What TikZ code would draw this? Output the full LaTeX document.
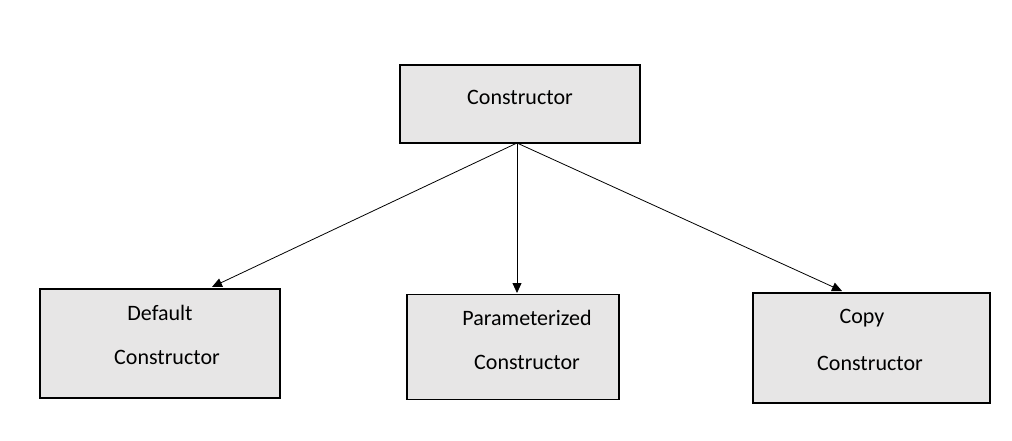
\documentclass[tikz,border=0pt]{standalone}
\usepackage{fontspec}
\setmainfont{Carlito}
\usetikzlibrary{arrows.meta}
\definecolor{boxfill}{HTML}{E7E6E6}
\tikzset{
  box/.style={draw=black, line width=1.6pt, fill=boxfill, inner sep=0pt},
  lbl/.style={font=\fontsize{22}{26}\selectfont, inner sep=0pt, anchor=center},
  conn/.style={draw=black, line width=0.8pt, -{Triangle[length=10pt,width=9pt]}}
}
\begin{document}
\begin{tikzpicture}[x=1pt,y=-1pt]
\useasboundingbox (0,0) rectangle (1012,440);
\fill[white] (0,0) rectangle (1012,440);
\node[box, minimum width=240pt, minimum height=78pt] (top) at (520,104) {};
\node[lbl] (toptxt) at (520,97) {Constructor};
\node[box, minimum width=240pt, minimum height=109pt] (left) at (160,343.5) {};
\node[lbl] (lefta) at (160,313) {Default};
\node[lbl] (leftb) at (167,357) {Constructor};
\node[box, minimum width=212pt, minimum height=105pt] (mid) at (513,347) {};
\node[lbl] (mida) at (527,318) {Parameterized};
\node[lbl] (midb) at (527,362) {Constructor};
\node[box, minimum width=237pt, minimum height=110pt] (right) at (871.5,348) {};
\node[lbl] (righta) at (862,318) {Copy};
\node[lbl] (rightb) at (870,363) {Constructor};
\coordinate (src) at (517,143);
\coordinate (tl) at (212,287);
\coordinate (tm) at (517,293);
\coordinate (tr) at (842,291);
\draw[conn] (src) -- (tl);
\draw[conn] (src) -- (tm);
\draw[conn] (src) -- (tr);
\end{tikzpicture}
\end{document}
